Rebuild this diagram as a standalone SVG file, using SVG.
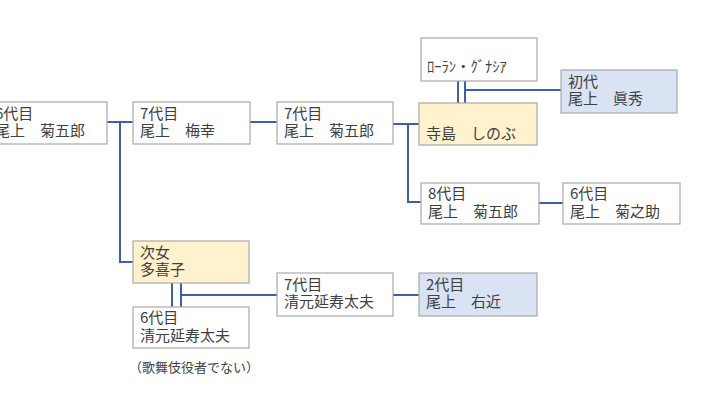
<svg xmlns="http://www.w3.org/2000/svg" width="720" height="405" viewBox="0 0 720 405">
<style>
.box{fill:#ffffff;stroke:#a9a9a9;stroke-width:1.2}
.y{fill:#fff2cc}
.b{fill:#dae3f3}
text{font-family:"Noto Sans CJK JP","Noto Sans",sans-serif;font-size:15px;fill:#404040}
.sm{font-size:13px}
.kt{font-size:14.5px}
.cn{fill:none;stroke:#3b62a6;stroke-width:2}
</style>
<rect width="720" height="405" fill="#ffffff"/>
<g id="connectors">
<path class="cn" d="M107 122H133M120 122V262H133"/>
<path class="cn" d="M250 122H277"/>
<path class="cn" d="M393 124H419M408 124V202H421"/>
<path class="cn" d="M458 81V103M465 81V103M465 90H561"/>
<path class="cn" d="M539 203H563"/>
<path class="cn" d="M172 283V307M181 283V307M181 295H277"/>
<path class="cn" d="M393 295H419"/>
</g>
<g id="n1"><rect class="box" x="-12" y="102" width="119" height="42"/><text x="-5" y="118.5">6代目</text><text x="-5" y="136">尾上　菊五郎</text></g>
<g id="n2"><rect class="box" x="133" y="102" width="117" height="42"/><text x="140" y="118.5">7代目</text><text x="140" y="136">尾上　梅幸</text></g>
<g id="n3"><rect class="box" x="277" y="102" width="116" height="42"/><text x="284" y="118.5">7代目</text><text x="284" y="136">尾上　菊五郎</text></g>
<g id="n4"><rect class="box y" x="419" y="103" width="118" height="42"/><text x="426" y="138.5">寺島　しのぶ</text></g>
<g id="n5"><rect class="box" x="421" y="38" width="116" height="43"/><text class="kt" x="427" y="72">ﾛｰﾗﾝ・ｸﾞﾅｼｱ</text></g>
<g id="n6"><rect class="box b" x="561" y="70" width="116" height="43"/><text x="568" y="86.5">初代</text><text x="568" y="104">尾上　眞秀</text></g>
<g id="n7"><rect class="box" x="421" y="183" width="118" height="41"/><text x="428" y="199">8代目</text><text x="428" y="216.5">尾上　菊五郎</text></g>
<g id="n8"><rect class="box" x="563" y="183" width="117" height="41"/><text x="570" y="199">6代目</text><text x="570" y="216.5">尾上　菊之助</text></g>
<g id="n9"><rect class="box y" x="133" y="241" width="116" height="42"/><text x="140" y="257.5">次女</text><text x="140" y="275">多喜子</text></g>
<g id="n10"><rect class="box" x="133" y="307" width="116" height="41"/><text x="140" y="323">6代目</text><text x="140" y="340.5">清元延寿太夫</text></g>
<g id="n11"><rect class="box" x="277" y="273" width="116" height="43"/><text x="284" y="289.5">7代目</text><text x="284" y="307">清元延寿太夫</text></g>
<g id="n12"><rect class="box b" x="419" y="273" width="118" height="43"/><text x="426" y="289.5">2代目</text><text x="426" y="307">尾上　右近</text></g>
<text class="sm" x="129" y="372">（歌舞伎役者でない）</text>
</svg>
